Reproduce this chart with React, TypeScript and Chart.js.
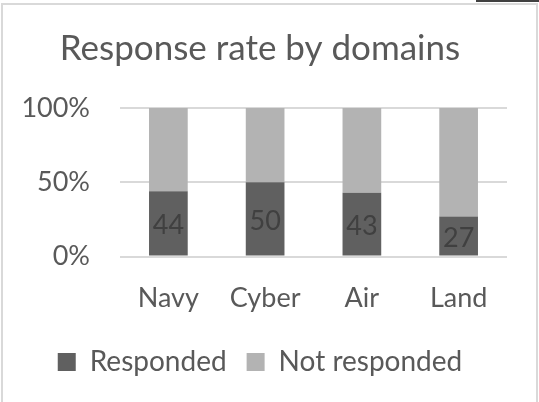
import React, { useEffect, useRef } from "react";
import { Chart, registerables } from "chart.js";

Chart.register(...registerables);

const categories = ["Navy", "Cyber", "Air", "Land"];
const responded = [44, 50, 43, 27];
const notResponded = [56, 50, 57, 73];
const yTickLabels = ["0%", "50%", "100%"];
const seriesNames = ["Responded", "Not responded"];
const titleText = "Response rate by domains";

const FONT = "Lato, 'Open Sans', sans-serif";
const TEXT = "#595959";

const barLabels = {
  id: "barLabels",
  afterDatasetsDraw(chart: any) {
    const ctx = chart.ctx;
    const meta = chart.getDatasetMeta(0);
    ctx.save();
    ctx.font = `27px ${FONT}`;
    ctx.fillStyle = "#404040";
    ctx.textAlign = "center";
    ctx.textBaseline = "middle";
    meta.data.forEach((el: any, i: number) => {
      const p = el.getProps(["x", "y", "base"], true);
      ctx.fillText(String(responded[i]), p.x, (p.y + p.base) / 2 + 2);
    });
    ctx.restore();
  },
};

export default function App() {
  const ref = useRef<HTMLCanvasElement>(null);
  useEffect(() => {
    if (!ref.current) return;
    const chart = new Chart(ref.current, {
      type: "bar",
      data: {
        labels: categories,
        datasets: [
          {
            label: seriesNames[0],
            data: responded,
            backgroundColor: "#606060",
            barPercentage: 0.4,
            categoryPercentage: 1,
          },
          {
            label: seriesNames[1],
            data: notResponded,
            backgroundColor: "#b3b3b3",
            barPercentage: 0.4,
            categoryPercentage: 1,
          },
        ],
      },
      options: {
        animation: false,
        responsive: false,
        layout: { padding: { left: 13, right: 32, top: 28, bottom: 16 } },
        plugins: {
          title: {
            display: true,
            text: titleText,
            color: TEXT,
            font: { family: FONT, size: 35, weight: "normal" },
            padding: { top: 0, bottom: 38 },
          },
          legend: {
            display: true,
            position: "bottom",
            labels: {
              color: TEXT,
              font: { family: FONT, size: 28 },
              boxWidth: 18,
              boxHeight: 18,
              padding: 20,
            },
          },
          tooltip: { enabled: false },
        },
        scales: {
          x: {
            stacked: true,
            grid: { display: false },
            border: { display: false },
            ticks: { color: TEXT, font: { family: FONT, size: 27 }, padding: 17 },
            afterFit: (s: any) => {
              s.height = s.height - 3;
            },
          },
          y: {
            stacked: true,
            min: 0,
            max: 100,
            ticks: {
              stepSize: 50,
              color: TEXT,
              font: { family: FONT, size: 27 },
              padding: 30,
              callback: (_v: any, i: number) => yTickLabels[i],
            },
            grid: { color: "#d9d9d9", lineWidth: 2, drawTicks: false },
            border: { display: false },
            afterFit: (s: any) => {
              s.width = 107;
            },
          },
        },
      },
      plugins: [barLabels],
    });
    return () => chart.destroy();
  }, []);

  return (
    <div style={{ position: "fixed", left: 0, top: 0, width: 539, height: 402, background: "#fff", overflow: "hidden" }}>
      <canvas ref={ref} width={539} height={402} style={{ position: "absolute", left: 0, top: 0 }} />
      <div style={{ position: "absolute", left: 1, top: 3, width: 533, height: 420, border: "2px solid #d9d9d9", boxSizing: "content-box", pointerEvents: "none" }} />
      <div style={{ position: "absolute", left: 476, top: 0, width: 63, height: 2, background: "#404040" }} />
    </div>
  );
}
